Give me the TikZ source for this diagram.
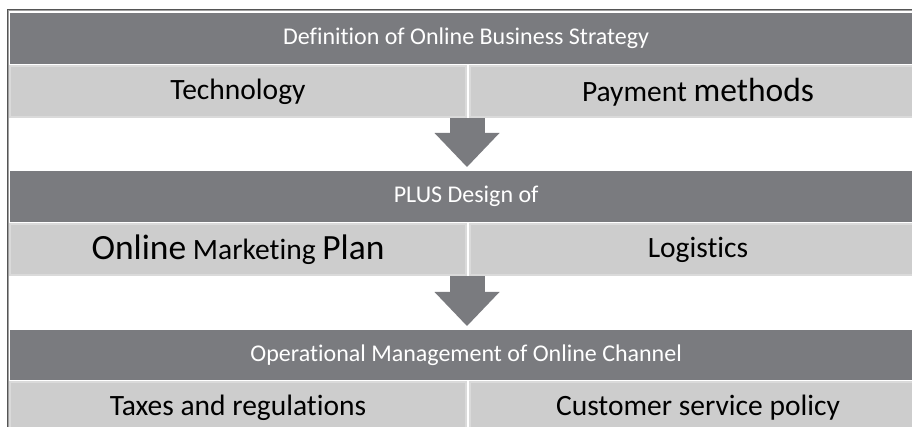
\documentclass[tikz,border=0pt]{standalone}
\usepackage{fontspec}
\setmainfont{Carlito}[Ligatures={NoCommon,NoRequired,NoContextual}]
\usetikzlibrary{arrows.meta,positioning}
\definecolor{bandDark}{RGB}{122,123,127}
\definecolor{bandLight}{RGB}{205,205,205}
\definecolor{bandEdge}{RGB}{218,218,218}
\definecolor{frameDark}{RGB}{85,85,85}
\definecolor{frameLight}{RGB}{160,160,160}

\begin{document}
\begin{tikzpicture}[x=1pt,y=-1pt,
  head/.style={fill=bandDark,text=white,minimum width=912pt,minimum height=51pt,
    anchor=north west,inner sep=0pt,font=\fontsize{24}{27}\selectfont},
  cell/.style={fill=bandLight,draw=bandEdge,line width=2pt,minimum width=456pt,
    minimum height=51pt,inner sep=0pt,font=\fontsize{29.5}{33}\selectfont},
  flow/.style={draw=bandDark,line width=35pt,shorten >=4pt,
    -{Triangle[width=65pt,length=34pt,line width=0pt 0]}}]
\useasboundingbox (0,0) rectangle (912,427);
\clip (0,0) rectangle (912,427);

\draw[frameDark, line width=1pt] (7,427) -- (7,9.5) -- (912,9.5);
\draw[frameLight, line width=1pt] (8.6,427) -- (8.6,11) -- (912,11);

\node[head] (def) at (10,13) {Definition of Online Business Strategy};
\node[cell, below=1pt of def.south west, anchor=north west, xshift=-1pt] (tech) {Technology};
\node[cell, right=2pt of tech] (pay) {Payment {\fontsize{33.5}{37}\selectfont methods}};

\node[head] (plus) at (10,171) {PLUS Design of};
\node[cell, below=1pt of plus.south west, anchor=north west, xshift=-1pt] (mkt)
  {{\fontsize{35.5}{39}\selectfont Online} Marketing {\fontsize{35.5}{39}\selectfont Plan}};
\node[cell, right=2pt of mkt] (logi) {Logistics};

\node[head, minimum height=50pt] (ops) at (10,330) {Operational Management of Online Channel};
\node[cell, below=1pt of ops.south west, anchor=north west, xshift=-1pt] (tax) {Taxes and regulations};
\node[cell, right=2pt of tax] (cust) {Customer service policy};

\draw[flow] (tech.south east) -- (tech.south east |- plus.north);
\draw[flow] (mkt.south east) -- (mkt.south east |- ops.north);
\end{tikzpicture}
\end{document}
